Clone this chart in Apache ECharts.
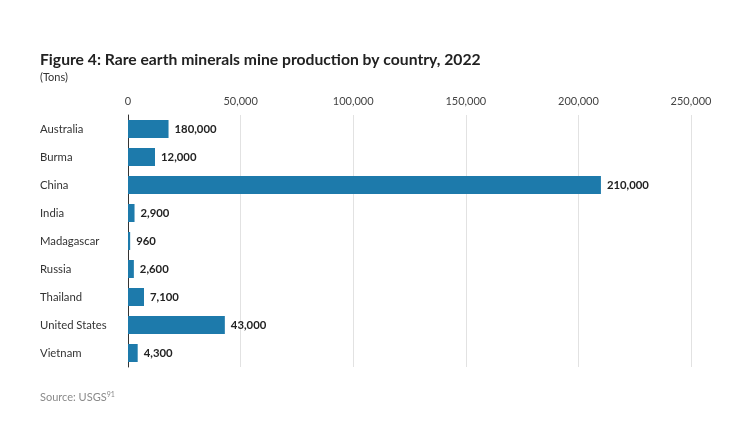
<!DOCTYPE html>
<html><head><meta charset="utf-8">
<script src="https://cdn.jsdelivr.net/npm/echarts@6/dist/echarts.min.js"></script>
<style>html,body{margin:0;padding:0;background:#fff}#c{width:752px;height:425px}</style>
</head><body><div id="c"></div>
<script>
const categories = ['Australia','Burma','China','India','Madagascar','Russia','Thailand','United States','Vietnam'];
const values = [18000, 12000, 210000, 2900, 960, 2600, 7100, 43000, 4300];
const valueLabels = ['180,000','12,000','210,000','2,900','960','2,600','7,100','43,000','4,300'];
const xTicks = [0, 50000, 100000, 150000, 200000, 250000];

const chart = echarts.init(document.getElementById('c'));
const fontText = 'Lato, sans-serif';
chart.setOption({
  animation: false,
  title: [{
    text: 'Figure 4: Rare earth minerals mine production by country, 2022',
    subtext: '(Tons)',
    left: 40, top: 52, itemGap: 4, padding: 0,
    textStyle: {fontFamily: fontText, fontSize: 15.7, fontWeight: 'bold', color: '#222'},
    subtextStyle: {fontFamily: fontText, fontSize: 11, color: '#333'}
  }, {
    text: '{a|Source: USGS}{b|91}',
    left: 40, top: 391, padding: 0,
    textStyle: {fontWeight: 'normal', rich: {
      a: {fontFamily: fontText, fontSize: 11, fontWeight: 'normal', color: '#8a8a8a'},
      b: {fontFamily: fontText, fontSize: 7, fontWeight: 'normal', color: '#8a8a8a', verticalAlign: 'top', padding: [0,0,6,0]}
    }}
  }],
  grid: {left: 128, right: 61, top: 115, height: 252, containLabel: false},
  xAxis: {
    type: 'value', position: 'top', min: 0, max: 250000, interval: 50000,
    axisLine: {show: false}, axisTick: {show: false},
    splitLine: {lineStyle: {color: '#e2e2e2', width: 1}},
    axisLabel: {color: '#444', fontFamily: fontText, fontSize: 11, margin: 8,
      formatter: v => xTicks.includes(v) ? v.toLocaleString('en-US') : ''}
  },
  yAxis: {
    type: 'category', data: categories, inverse: true,
    axisLine: {show: true, lineStyle: {color: '#333', width: 1}},
    axisTick: {show: false},
    axisLabel: {align: 'left', margin: 88, color: '#333', fontFamily: fontText, fontSize: 11.3}
  },
  series: [{
    type: 'bar', data: values, barWidth: 18,
    itemStyle: {color: '#1d7aab'},
    label: {show: true, position: 'right', distance: 6,
      formatter: p => valueLabels[p.dataIndex],
      fontFamily: fontText, fontWeight: 'bold', fontSize: 11.3, color: '#222'}
  }]
});
</script></body></html>
